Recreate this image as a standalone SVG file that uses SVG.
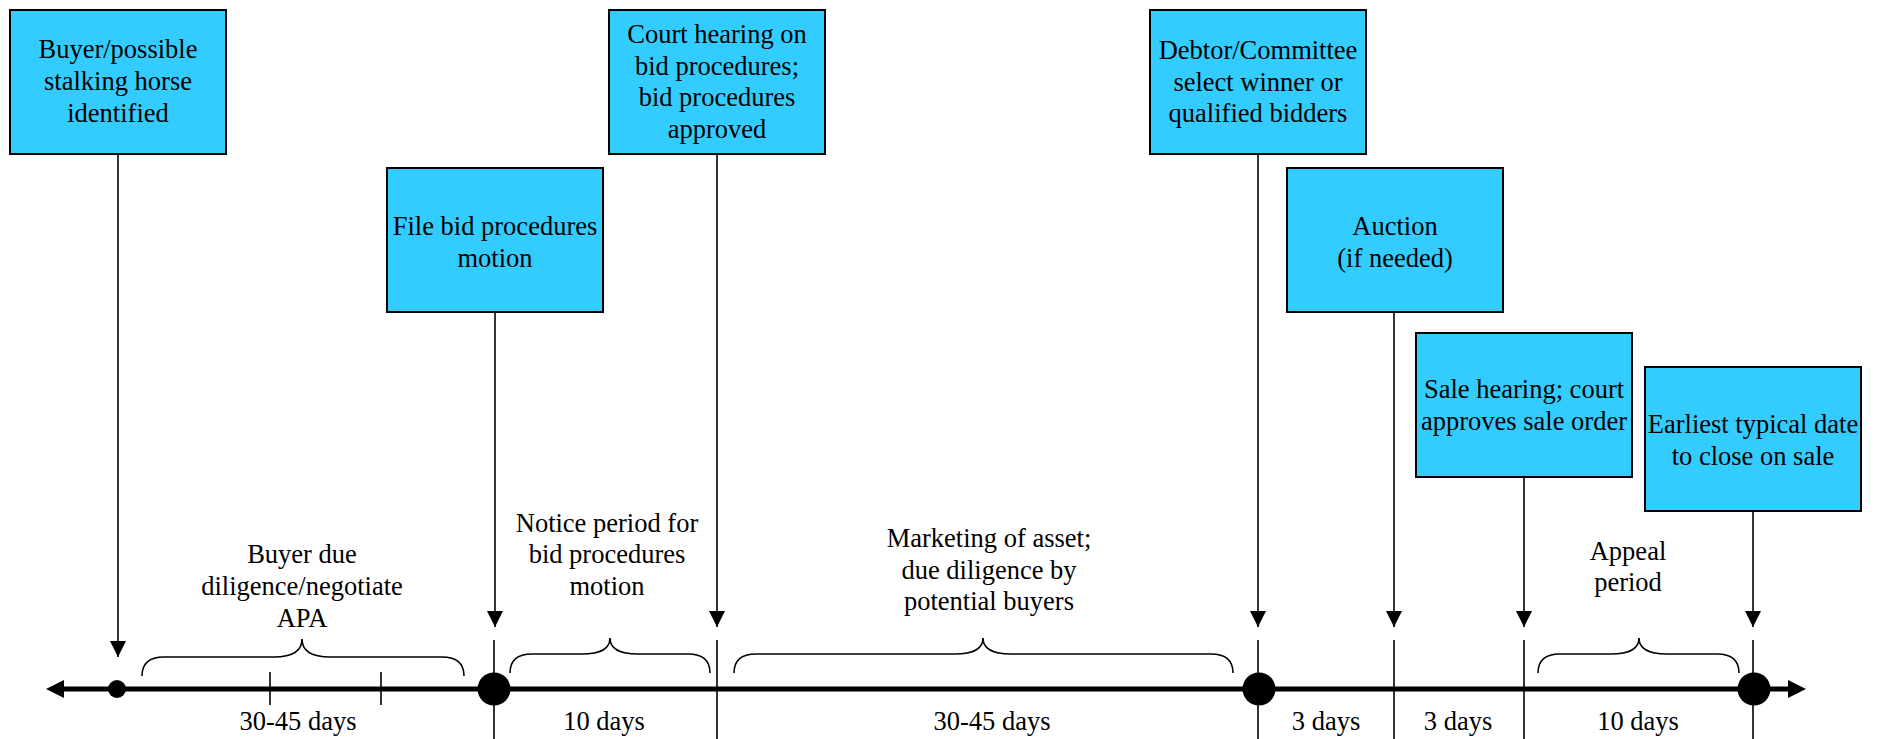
<svg xmlns="http://www.w3.org/2000/svg" width="1877" height="739" viewBox="0 0 1877 739">
<defs>
<style>
.box{fill:#33CCFF;stroke:#000;stroke-width:2}
.t{font-family:"Liberation Serif","Times New Roman",serif;font-size:26.5px;fill:#000;text-anchor:middle}
.conn{stroke:#000;stroke-width:1.6;fill:none}
.tick{stroke:#000;stroke-width:1.6;fill:none}
.brace{stroke:#000;stroke-width:1.6;fill:none}
</style>
<marker id="ah" markerUnits="userSpaceOnUse" markerWidth="16" markerHeight="16" viewBox="0 0 16 16" refX="16" refY="8" orient="auto">
<path d="M0,0 L16,8 L0,16 Z" fill="#000"/>
</marker>
</defs>
<rect width="1877" height="739" fill="#fff"/>

<g id="node-buyer">
<rect class="box" x="10" y="10" width="216" height="144"/>
<text class="t" x="118" y="58">Buyer/possible</text>
<text class="t" x="118" y="90">stalking horse</text>
<text class="t" x="118" y="122">identified</text>
</g>
<g id="node-file">
<rect class="box" x="387" y="168" width="216" height="144"/>
<text class="t" x="495" y="235">File bid procedures</text>
<text class="t" x="495" y="267">motion</text>
</g>
<g id="node-court">
<rect class="box" x="609" y="10" width="216" height="144"/>
<text class="t" x="717" y="43">Court hearing on</text>
<text class="t" x="717" y="74.5">bid procedures;</text>
<text class="t" x="717" y="106">bid procedures</text>
<text class="t" x="717" y="137.5">approved</text>
</g>
<g id="node-debtor">
<rect class="box" x="1150" y="10" width="216" height="144"/>
<text class="t" x="1258" y="59">Debtor/Committee</text>
<text class="t" x="1258" y="91">select winner or</text>
<text class="t" x="1258" y="122">qualified bidders</text>
</g>
<g id="node-auction">
<rect class="box" x="1287" y="168" width="216" height="144"/>
<text class="t" x="1395" y="235">Auction</text>
<text class="t" x="1395" y="266.5">(if needed)</text>
</g>
<g id="node-sale">
<rect class="box" x="1416" y="333" width="216" height="144"/>
<text class="t" x="1524" y="398">Sale hearing; court</text>
<text class="t" x="1524" y="430">approves sale order</text>
</g>
<g id="node-close">
<rect class="box" x="1645" y="367" width="216" height="144"/>
<text class="t" x="1753" y="433">Earliest typical date</text>
<text class="t" x="1753" y="465">to close on sale</text>
</g>

<g id="connectors">
<line class="conn" x1="118" y1="154" x2="118" y2="657" marker-end="url(#ah)"/>
<line class="conn" x1="495" y1="312" x2="495" y2="627" marker-end="url(#ah)"/>
<line class="conn" x1="717" y1="154" x2="717" y2="627" marker-end="url(#ah)"/>
<line class="conn" x1="1258" y1="154" x2="1258" y2="627" marker-end="url(#ah)"/>
<line class="conn" x1="1394" y1="312" x2="1394" y2="627" marker-end="url(#ah)"/>
<line class="conn" x1="1524" y1="477" x2="1524" y2="627" marker-end="url(#ah)"/>
<line class="conn" x1="1753" y1="511" x2="1753" y2="627" marker-end="url(#ah)"/>
</g>

<g id="timeline">
<line x1="60" y1="689" x2="1792" y2="689" stroke="#000" stroke-width="5"/>
<polygon points="46,689 64,680 64,698" fill="#000"/>
<polygon points="1806,689 1788,680 1788,698" fill="#000"/>
<line class="tick" x1="494" y1="640" x2="494" y2="739"/>
<line class="tick" x1="717" y1="640" x2="717" y2="739"/>
<line class="tick" x1="1258" y1="640" x2="1258" y2="739"/>
<line class="tick" x1="1394" y1="640" x2="1394" y2="739"/>
<line class="tick" x1="1524" y1="640" x2="1524" y2="739"/>
<line class="tick" x1="1753" y1="640" x2="1753" y2="739"/>
<line class="tick" x1="270" y1="672" x2="270" y2="705"/>
<line class="tick" x1="381" y1="672" x2="381" y2="705"/>
<circle cx="117" cy="689" r="9" fill="#000"/>
<circle cx="494" cy="689" r="16.5" fill="#000"/>
<circle cx="1259" cy="689" r="16.5" fill="#000"/>
<circle cx="1754" cy="689" r="16.5" fill="#000"/>
</g>

<g id="braces">
<path class="brace" d="M142,676 Q142,657 164,657 L274,657 Q302,657 302,639 Q302,657 330,657 L442,657 Q464,657 464,676"/>
<path class="brace" d="M510,673 Q510,654 532,654 L582,654 Q610,654 610,638 Q610,654 638,654 L688,654 Q710,654 710,673"/>
<path class="brace" d="M734,673 Q734,654 756,654 L955,654 Q983,654 983,638 Q983,654 1011,654 L1211,654 Q1233,654 1233,673"/>
<path class="brace" d="M1538,673 Q1538,654 1560,654 L1611,654 Q1639,654 1639,638 Q1639,654 1667,654 L1717,654 Q1739,654 1739,673"/>
</g>

<g id="labels">
<text class="t" x="302" y="563">Buyer due</text>
<text class="t" x="302" y="595">diligence/negotiate</text>
<text class="t" x="302" y="627">APA</text>
<text class="t" x="607" y="532">Notice period for</text>
<text class="t" x="607" y="563">bid procedures</text>
<text class="t" x="607" y="595">motion</text>
<text class="t" x="989" y="547">Marketing of asset;</text>
<text class="t" x="989" y="579">due diligence by</text>
<text class="t" x="989" y="610">potential buyers</text>
<text class="t" x="1628" y="560">Appeal</text>
<text class="t" x="1628" y="591">period</text>
<text class="t" x="298" y="730">30-45 days</text>
<text class="t" x="604" y="730">10 days</text>
<text class="t" x="992" y="730">30-45 days</text>
<text class="t" x="1326" y="730">3 days</text>
<text class="t" x="1458" y="730">3 days</text>
<text class="t" x="1638" y="730">10 days</text>
</g>
</svg>
